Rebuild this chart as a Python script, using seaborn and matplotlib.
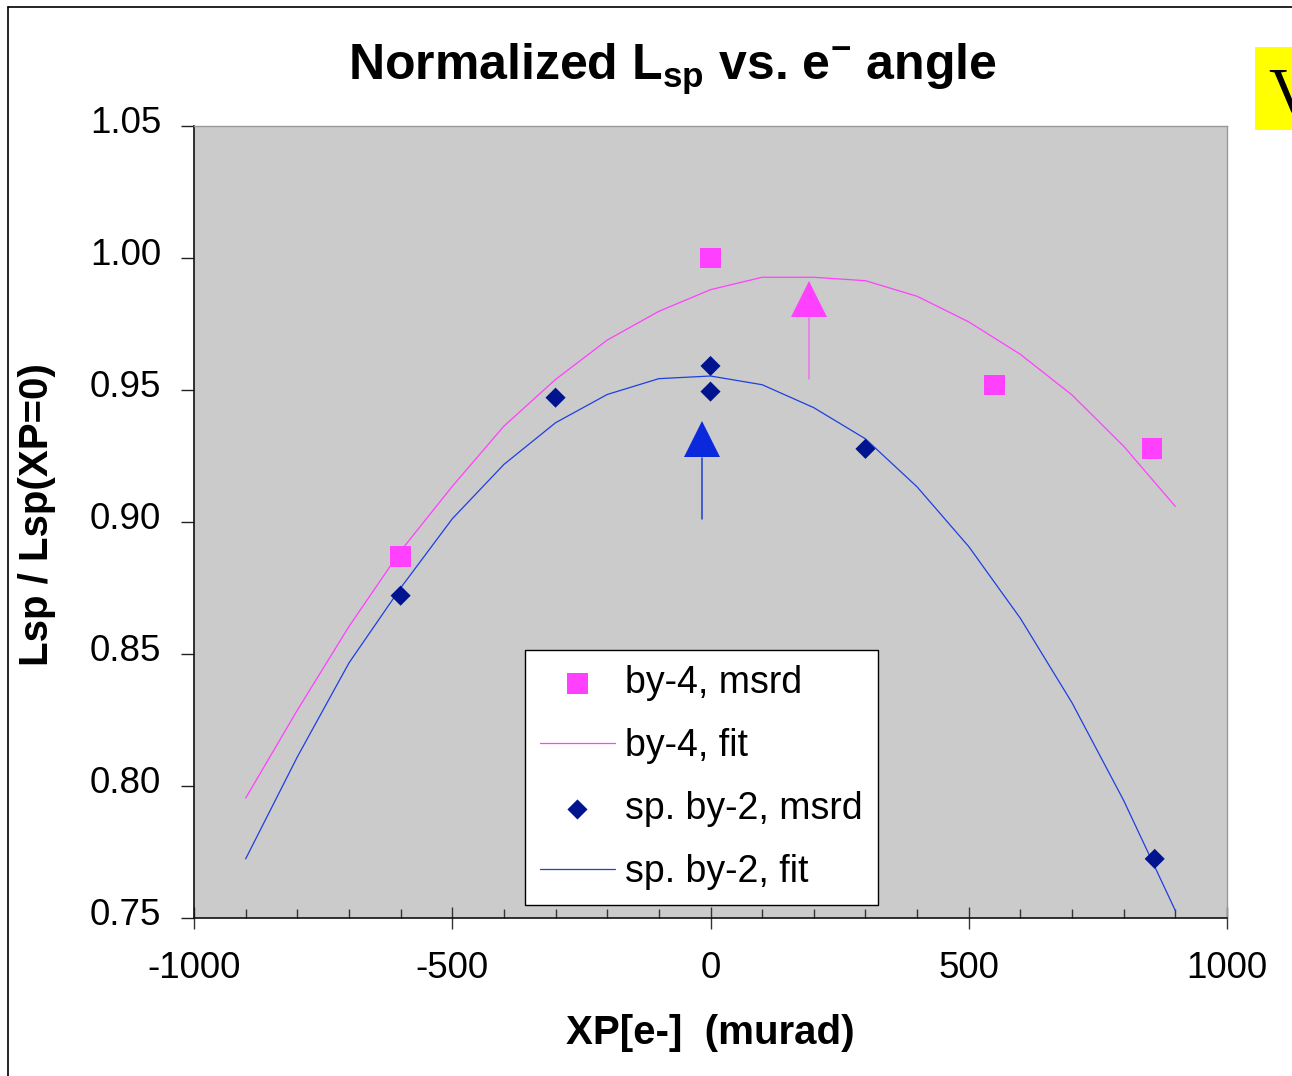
import matplotlib
matplotlib.use("Agg")
import matplotlib.pyplot as plt
import matplotlib.transforms as mtransforms
from matplotlib.lines import Line2D
from matplotlib.patches import Rectangle
from matplotlib.font_manager import fontManager
import seaborn as sns
import pandas as pd

# fitted curves, one point every 100 murad
xp_fit = [-900, -800, -700, -600, -500, -400, -300, -200, -100, 0,
          100, 200, 300, 400, 500, 600, 700, 800, 900]
by4_fit = [0.7954, 0.8287, 0.8604, 0.8890, 0.9135, 0.9363, 0.9540, 0.9689, 0.9798, 0.9880,
           0.9927, 0.9927, 0.9914, 0.9855, 0.9758, 0.9635, 0.9481, 0.9287, 0.9059]
by2_fit = [0.7724, 0.8110, 0.8466, 0.8750, 0.9012, 0.9218, 0.9376, 0.9483, 0.9543, 0.9553,
           0.9520, 0.9433, 0.9315, 0.9133, 0.8907, 0.8635, 0.8315, 0.7945, 0.7528]

# measured points
by4_xp = [-600, 0, 550, 855]
by4_msrd = [0.8869, 1.0000, 0.9518, 0.9278]
by2_xp = [-600, -300, 0, 0, 300, 860]
by2_msrd = [0.8721, 0.9471, 0.9591, 0.9494, 0.9277, 0.7724]

# peak arrows (x, head, tail top, tail bottom)
arrow_xp = [-17, 190]
arrow_head = [0.9313, 0.9843]
arrow_top = [0.9243, 0.9772]
arrow_bottom = [0.9011, 0.9540]

y_ticks = [0.75, 0.80, 0.85, 0.90, 0.95, 1.00, 1.05]
x_ticks = [-1000, -500, 0, 500, 1000]

names = {f.name for f in fontManager.ttflist}
title_font = "Liberation Sans Narrow" if "Liberation Sans Narrow" in names else "Liberation Sans"

sns.set_style("ticks")
plt.rcParams['font.family'] = ['Liberation Sans', 'DejaVu Sans']
plt.rcParams['mathtext.fontset'] = 'custom'
plt.rcParams['mathtext.bf'] = title_font + ':bold'
plt.rcParams['mathtext.rm'] = title_font
plt.rcParams['axes.unicode_minus'] = False
for key in ['text.color', 'axes.labelcolor', 'xtick.color', 'ytick.color']:
    plt.rcParams[key] = 'black'

PINK = "#FF40FF"
NAVY = "#001490"
BLUE = "#1E3FE0"

fig = plt.figure(figsize=(12.92, 10.76), dpi=100)
ax = fig.add_axes([194 / 1292, 1 - 918 / 1076, 1033 / 1292, 792 / 1076])
ax.set_facecolor("#CBCBCB")

fit_df = pd.DataFrame({"xp": xp_fit, "by4": by4_fit, "by2": by2_fit})

sns.scatterplot(x=by4_xp, y=by4_msrd, marker="s", s=215, color=PINK, edgecolor="none",
                label="by-4, msrd", ax=ax, zorder=4)
sns.lineplot(data=fit_df, x="xp", y="by4", color=PINK, linewidth=0.9,
             label="by-4, fit", ax=ax, zorder=3)
sns.scatterplot(x=by2_xp, y=by2_msrd, marker="D", s=105, color=NAVY, edgecolor="none",
                label="sp. by-2, msrd", ax=ax, zorder=4)
sns.lineplot(data=fit_df, x="xp", y="by2", color=BLUE, linewidth=0.9,
             label="sp. by-2, fit", ax=ax, zorder=3)

# arrows marking the fitted peaks
for xa, yh, yt, yb, c, lc in zip(arrow_xp, arrow_head, arrow_top, arrow_bottom,
                                 ["#0A28DC", PINK], ["#1E3FD0", "#EE70EE"]):
    ax.plot([xa, xa], [yb, yt], color=lc, linewidth=1.1, zorder=3)
    ax.plot([xa], [yh], marker="^", markersize=26, color=c, markeredgewidth=0, zorder=3)

ax.set_xlim(-1000, 1000)
ax.set_ylim(0.75, 1.05)
ax.set_xticks(x_ticks)
ax.set_xticklabels([str(v) for v in x_ticks])
ax.set_xticks(list(range(-1000, 1001, 100)), minor=True)
ax.set_yticks(y_ticks)
ax.set_yticklabels([f"{v:.2f}" for v in y_ticks])
ax.tick_params(axis="x", which="major", direction="inout", length=16, width=1,
               labelsize=26.5, pad=16, color="#333333")
ax.tick_params(axis="x", which="minor", direction="in", length=6.5, width=1, color="#333333")
ax.tick_params(axis="y", which="major", direction="out", length=9.5, width=1,
               labelsize=26.5, pad=14, color="#222222")
# y labels sit a little above their ticks in the original
shift = mtransforms.ScaledTranslation(0, 7 / 100, fig.dpi_scale_trans)
for lab in ax.get_yticklabels():
    lab.set_transform(lab.get_transform() + shift)

for side in ["left", "bottom"]:
    ax.spines[side].set_color("#111111")
    ax.spines[side].set_linewidth(1.2)
for side in ["top", "right"]:
    ax.spines[side].set_color("#999999")
    ax.spines[side].set_linewidth(1.0)

ax.set_xlabel("")
ax.set_ylabel("")

handles, labels = ax.get_legend_handles_labels()
leg = ax.legend(handles, labels, loc="upper left", bbox_to_anchor=(0.3204, 0.338),
                borderaxespad=0, fontsize=27, frameon=True, fancybox=False,
                edgecolor="black", facecolor="white", framealpha=1,
                handlelength=2.0, handletextpad=0.28, labelspacing=0.72,
                borderpad=0.4, markerscale=1.0)
leg.get_frame().set_linewidth(1.0)

# title, axis labels
fig.text(672 / 1292, 1 - 80 / 1076,
         r"Normalized L$_{\mathbf{sp}}$ vs. e$^{\mathbf{-}}$ angle",
         ha="center", va="baseline", fontsize=36, fontweight="bold", family=title_font)
fig.text(37 / 1292, 1 - 515 / 1076, "Lsp / Lsp(XP=0)", rotation=90, ha="center",
         va="center", fontsize=29, fontweight="bold")
fig.text(710 / 1292, 1 - 1033 / 1076, "XP[e-]  (murad)", ha="center", va="center",
         fontsize=29, fontweight="bold")

# slide frame and yellow box cut by the right edge
fig.add_artist(Line2D([8 / 1292, 8 / 1292], [0, 1 - 7 / 1076], color="black", linewidth=1.2))
fig.add_artist(Line2D([8 / 1292, 1], [1 - 7 / 1076, 1 - 7 / 1076], color="black", linewidth=1.2))
fig.add_artist(Rectangle((1255 / 1292, 1 - 130 / 1076), 60 / 1292, 83 / 1076,
                         facecolor="#FFFF00", edgecolor="none", transform=fig.transFigure))
fig.text(1268 / 1292, 1 - 112 / 1076, "V", fontsize=46, family=["Liberation Serif", "DejaVu Serif"],
         ha="left", va="baseline")

fig.savefig("out.png", dpi=100, facecolor="white")
